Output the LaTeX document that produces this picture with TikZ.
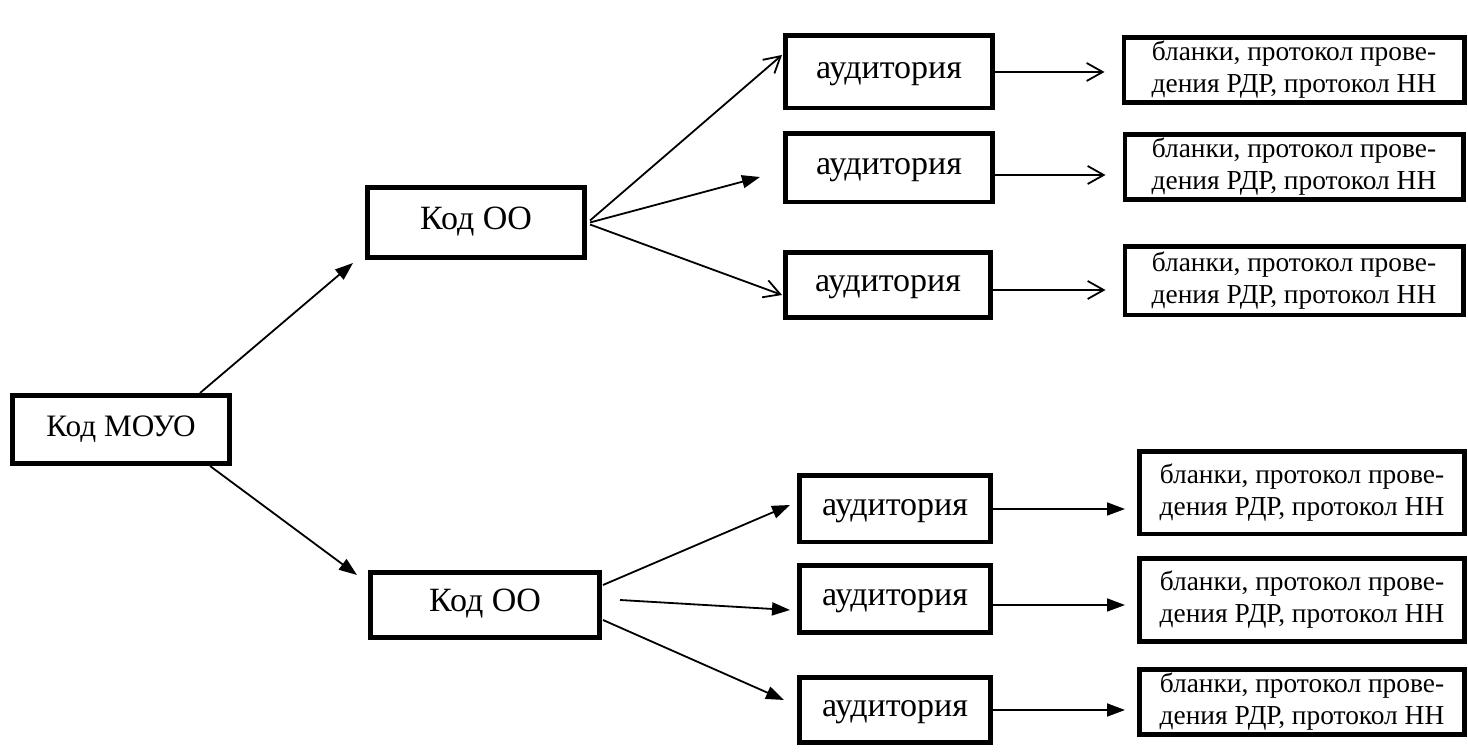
\documentclass[tikz,border=0pt]{standalone}
\usepackage{fontspec}
\setmainfont{Liberation Serif}
\usetikzlibrary{arrows.meta,positioning,calc}
\tikzset{
  box/.style={rectangle,draw=black,line width=2.4pt,inner sep=2pt,font=\fontsize{17}{20}\selectfont,text height=11pt,text depth=4pt,align=center},
  doc/.style={rectangle,draw=black,line width=2.4pt,inner sep=2pt,font=\fontsize{13.7}{16}\selectfont,align=center},
  arrow/.style={-{Triangle[length=9pt,width=6.5pt]},line width=0.9pt},
  barb/.style={-{Straight Barb[length=8pt,width=9pt]},line width=0.9pt}
}

\begin{document}
\begin{tikzpicture}[x=0.5pt,y=0.5pt]
    \useasboundingbox (0,0) rectangle (1468,755);

    \node[box, font=\fontsize{15.6}{19}\selectfont, minimum width=108.6pt, minimum height=34.1pt] (moyo) at (121,325.5) {Код МОУО};
    \node[box, minimum width=108.6pt, minimum height=35.1pt] (oo1) at (476,532.5) {Код ОО};
    \node[box, minimum width=114.6pt, minimum height=32.6pt] (oo2) at (485,150) {Код ОО};

    % upper branch
    \node[box, minimum width=103.6pt, minimum height=36.1pt] (aud1) at (889,683) {аудитория};
    \node[box, minimum width=103.6pt, minimum height=34.1pt] (aud2) at (889,587) {аудитория};
    \node[box, minimum width=102.6pt, minimum height=32.6pt] (aud3) at (888,470) {аудитория};
    \node[doc, minimum width=170.1pt, minimum height=32.6pt] (blank1) at (1294,685) {бланки, протокол прове-\\дения РДР, протокол НН};
    \node[doc, minimum width=169.1pt, minimum height=32.6pt] (blank2) at (1294,588) {бланки, протокол прове-\\дения РДР, протокол НН};
    \node[doc, minimum width=169.1pt, minimum height=34.1pt] (blank3) at (1294,474) {бланки, протокол прове-\\дения РДР, протокол НН};

    % lower branch
    \node[box, minimum width=95.6pt, minimum height=33.1pt] (aud4) at (895,246) {аудитория};
    \node[box, minimum width=95.6pt, minimum height=33.6pt] (aud5) at (895,156) {аудитория};
    \node[box, minimum width=95.6pt, minimum height=32.6pt] (aud6) at (895,45) {аудитория};
    \node[doc, minimum width=162.6pt, minimum height=41.1pt] (blank4) at (1302,262) {бланки, протокол прове-\\дения РДР, протокол НН};
    \node[doc, minimum width=162.6pt, minimum height=41.6pt] (blank5) at (1302,155) {бланки, протокол прове-\\дения РДР, протокол НН};
    \node[doc, minimum width=162.6pt, minimum height=32.1pt] (blank6) at (1302,53) {бланки, протокол прове-\\дения РДР, протокол НН};

    \draw[arrow] ($(moyo.north east)+(-32,0)$) -- ($(oo1.south west)+(-12,-3)$);
    \draw[arrow] ($(moyo.south east)+(-22,0)$) -- ($(oo2.west)+(-11,30)$);

    \draw[barb] ($(oo1.east)+(3,2)$) -- ($(aud1.west)+(-1,17)$);
    \draw[arrow] ($(oo1.east)+(3,0)$) -- ($(aud2.west)+(-23,-9)$);
    \draw[barb] ($(oo1.east)+(3,-2)$) -- ($(aud3.west)+(-1,-10)$);
    \draw[barb, shorten >=8.5pt] (aud1.east) -- (aud1.east -| blank1.west);
    \draw[barb, shorten >=8.5pt] ($(aud2.east)+(0,-7)$) -- ($(aud2.east -| blank2.west)+(0,-7)$);
    \draw[barb, shorten >=8.5pt] ($(aud3.east)+(0,-5)$) -- ($(aud3.east -| blank3.west)+(0,-5)$);

    \draw[arrow] ($(oo2.east)+(1,20)$) -- ($(aud4.west)+(-7,4)$);
    \draw[arrow] ($(oo2.east)+(18,5)$) -- ($(aud5.west)+(-7,-11)$);
    \draw[arrow] ($(oo2.east)+(1,-15)$) -- ($(aud6.west)+(-13,10)$);
    \draw[arrow, shorten >=6pt] (aud4.east) -- (aud4.east -| blank4.west);
    \draw[arrow, shorten >=6pt] ($(aud5.east)+(0,-6)$) -- ($(aud5.east -| blank5.west)+(0,-6)$);
    \draw[arrow, shorten >=6pt] (aud6.east) -- (aud6.east -| blank6.west);
\end{tikzpicture}
\end{document}
